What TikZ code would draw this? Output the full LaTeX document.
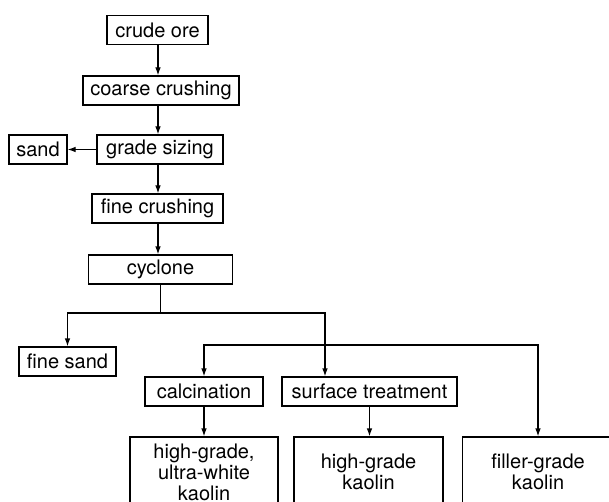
\documentclass[tikz,border=0pt]{standalone}
\usepackage{fontspec}
\setmainfont{TeX Gyre Heros}
\usetikzlibrary{arrows.meta}

\tikzset{
    stepbox/.style={draw, line width=0.6pt, inner sep=0pt, minimum height=14.5pt,
        font=\fontsize{10}{10.5}\selectfont, align=center},
    flow/.style={line width=0.6pt, -{Latex[length=4pt,width=2.8pt]}},
}

\begin{document}
\begin{tikzpicture}[x=0.5pt,y=-0.5pt]

    % Frame of the picture (bottom boxes run off the page)
    \clip (0,0) rectangle (609,502);
    \coordinate (spine) at (158,0);

    % Main line: crude ore down to the cyclone
    \node[stepbox, minimum width=50.5pt] (crude) at (157.5,30) {crude ore};
    \node[stepbox, minimum width=78pt] (coarse) at (161,90.5) {coarse crushing};
    \node[stepbox, minimum width=63pt] (grading) at (160,149.5) {grade sizing};
    \node[stepbox, minimum width=29pt] (sand) at (38,149.5) {sand};
    \node[stepbox, minimum width=65.5pt] (finecr) at (157.5,208.5) {fine crushing};
    \node[stepbox, minimum width=72pt] (cyclone) at (160.5,269.5) {cyclone};

    \draw[flow] (spine |- crude.south) -- (spine |- coarse.north);
    \draw[flow] (spine |- coarse.south) -- (spine |- grading.north);
    \draw[flow] (grading.west) -- (sand.east);
    \draw[flow] (spine |- grading.south) -- (spine |- finecr.north);
    \draw[flow] (spine |- finecr.south) -- (spine |- cyclone.north);

    % Split after the cyclone
    \node[stepbox, minimum width=48.5pt] (finesand) at (67.5,361.5) {fine sand};
    \node[stepbox, minimum width=59pt] (calc) at (204,391.5) {calcination};
    \node[stepbox, minimum width=87.5pt] (surf) at (369.5,391.5) {surface treatment};

    \coordinate (split1) at (cyclone.south |- 0,313);
    \coordinate (branch) at (325,313);
    \coordinate (split2) at (325,345);
    \draw[flow] (cyclone.south) -- (split1) -| (finesand.north);
    \draw[flow] (split1) -- (branch) -- (branch |- surf.north);
    \draw[flow] (split2) -| (calc.north);

    % Products (boxes cut at the page edge)
    \node[stepbox, minimum width=74pt, minimum height=35pt] (hgwhite) at (204,472)
        {high-grade,\\ultra-white\\kaolin};
    \node[stepbox, minimum width=74.5pt, minimum height=35pt] (hgkaolin) at (368.5,472)
        {high-grade\\kaolin};
    \node[stepbox, minimum width=75.5pt, minimum height=35pt] (filler) at (538,472)
        {filler-grade\\kaolin};

    \draw[flow] (split2) -| (filler.north);
    \draw[flow] (calc.south) -- (calc.south |- hgwhite.north);
    \draw[flow] (surf.south) -- (surf.south |- hgkaolin.north);

\end{tikzpicture}
\end{document}
